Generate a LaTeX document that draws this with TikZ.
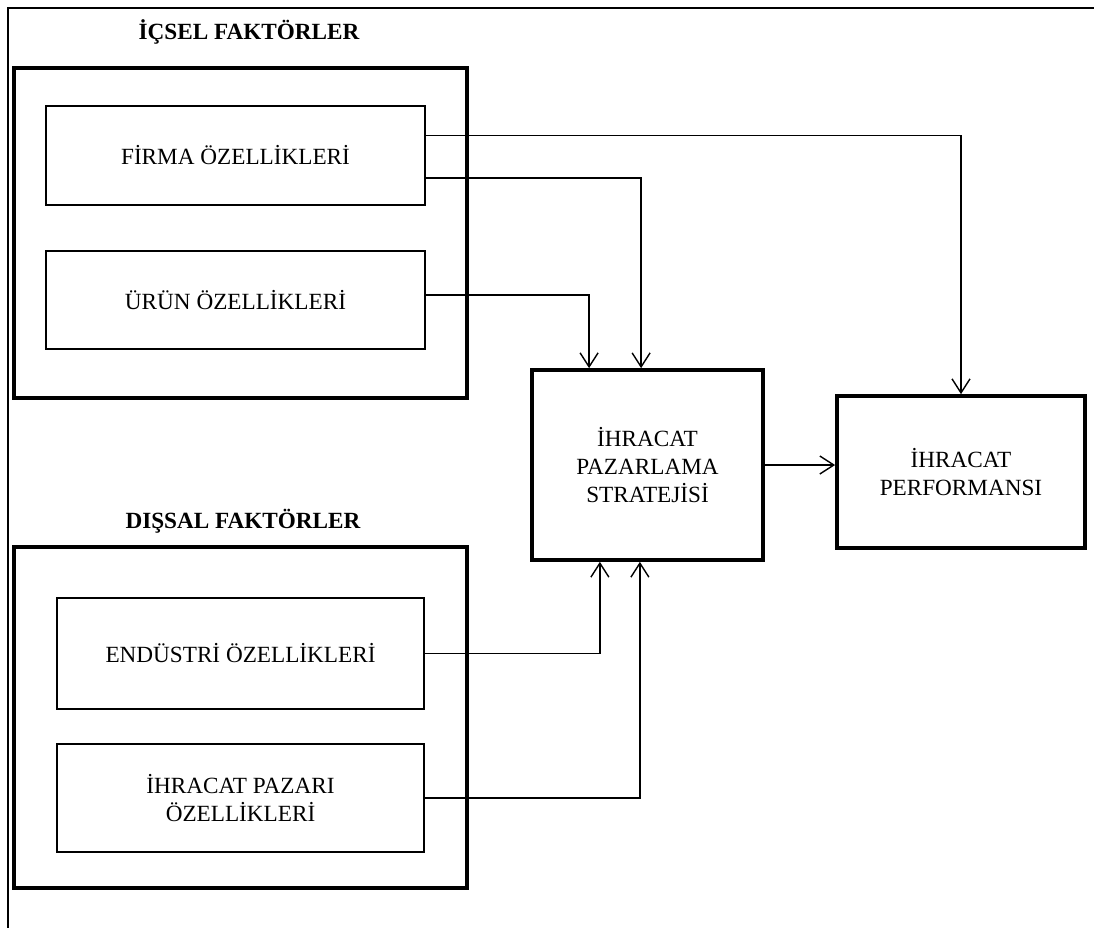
\documentclass[tikz,border=0pt]{standalone}
\usepackage{fontspec}
\setmainfont{Liberation Serif}
\usetikzlibrary{arrows.meta,positioning}

\begin{document}
\begin{tikzpicture}[x=0.025cm, y=-0.025cm,
    >={Straight Barb[length=3.5mm,width=4.5mm]},
    font=\fontsize{16.5}{20}\selectfont,
    group/.style={draw, line width=2.6pt, inner sep=0pt},
    item/.style={draw, line width=1pt, align=center, inner sep=0pt},
    mainbox/.style={draw, line width=2.6pt, align=center, inner sep=0pt},
    grouptitle/.style={font=\fontsize{16.5}{20}\selectfont\bfseries}]
    \useasboundingbox (0,0) rectangle (1094,928);
    \draw[line width=1pt] (8,928) -- (8,8) -- (1094,8);

    % internal factors
    \node (ictitle) [grouptitle] at (249,32) {İÇSEL FAKTÖRLER};
    \node (icsel) [group, minimum width=11.33cm, minimum height=8.25cm] at (240.5,233) {};
    \node (firma) [item, minimum width=9.48cm, minimum height=2.48cm] at (235.5,155.5) {FİRMA ÖZELLİKLERİ};
    \node (urun) [item, minimum width=9.48cm, minimum height=2.45cm] at (235.5,300) {ÜRÜN ÖZELLİKLERİ};

    % external factors
    \node (distitle) [grouptitle] at (243,521) {DIŞSAL FAKTÖRLER};
    \node (dissal) [group, minimum width=11.33cm, minimum height=8.53cm] at (240.5,717.5) {};
    \node (endustri) [item, minimum width=9.18cm, minimum height=2.78cm] at (240.5,653.5) {ENDÜSTRİ ÖZELLİKLERİ};
    \node (pazar) [item, minimum width=9.18cm, minimum height=2.7cm] at (240.5,798) {İHRACAT PAZARI\\ÖZELLİKLERİ};

    \node (strat) [mainbox, minimum width=5.78cm, minimum height=4.75cm] at (647.5,465) {İHRACAT\\PAZARLAMA\\STRATEJİSİ};
    \node (perf) [mainbox, minimum width=6.2cm, minimum height=3.8cm] at (961,472) {İHRACAT\\PERFORMANSI};

    \draw[->, line width=1pt] ([yshift=0.5cm]firma.east) -| (perf.north);
    \draw[->, line width=1pt] ([yshift=-0.56cm]firma.east) -| ([xshift=-0.16cm]strat.north);
    \draw[->, line width=1pt] ([yshift=0.12cm]urun.east) -| ([xshift=-1.46cm]strat.north);
    \draw[->, line width=1pt] (endustri.east) -| ([xshift=-1.19cm]strat.south);
    \draw[->, line width=1pt] (pazar.east) -| ([xshift=-0.19cm]strat.south);
    \draw[->, line width=1pt] (strat.east) -- (strat.east -| perf.west);
\end{tikzpicture}
\end{document}
